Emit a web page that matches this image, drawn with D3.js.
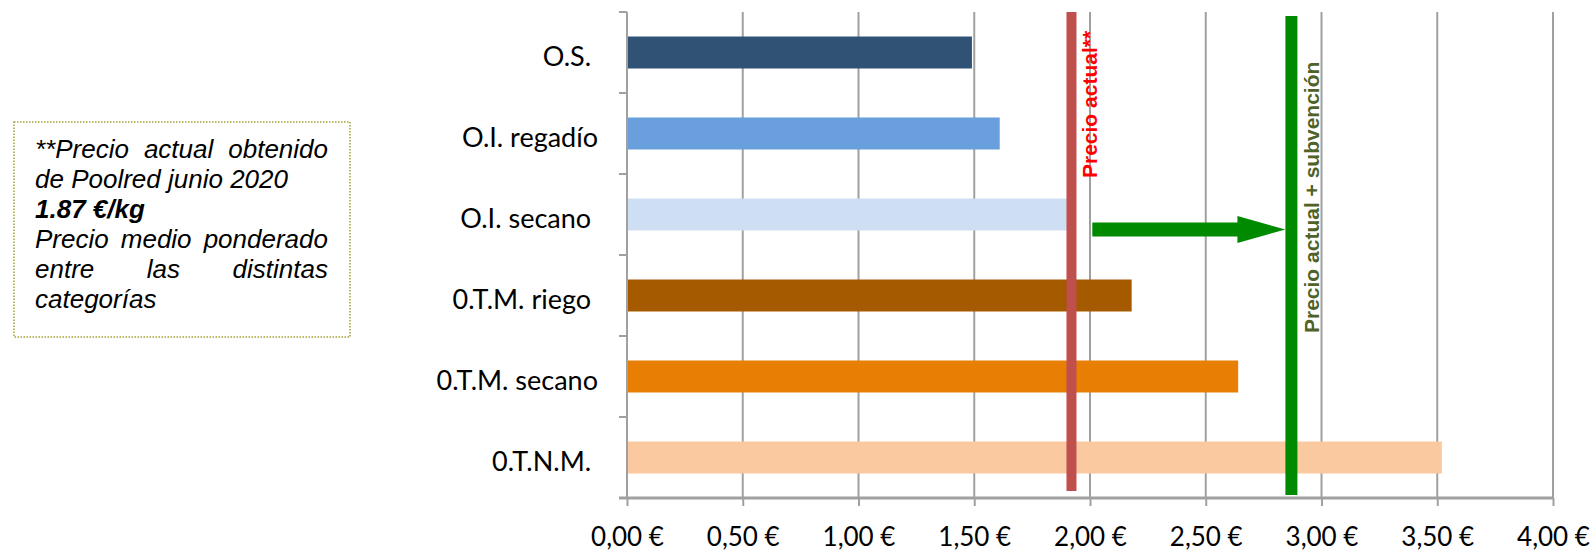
<!DOCTYPE html>
<html>
<head>
<meta charset="utf-8">
<script src="https://cdn.jsdelivr.net/npm/d3@7"></script>
<style>
  html, body { margin: 0; padding: 0; background: #fff; }
  svg { display: block; }
</style>
</head>
<body>
<svg id="chart" width="1593" height="552"></svg>
<script>
// ---- data ----
const categories = ["O.S. ", "O.I. regadío", "O.I. secano ", "0.T.M. riego ", "0.T.M. secano", "0.T.N.M. "];
const values = [1.49, 1.61, 1.90, 2.18, 2.64, 3.52];
const barColors = ["#2f5275", "#689fdc", "#cfdff3", "#a65a00", "#e97e04", "#fbc99f"];
const tickValues = [0, 0.5, 1, 1.5, 2, 2.5, 3, 3.5, 4];
const tickLabels = ["0,00 €", "0,50 €", "1,00 €", "1,50 €", "2,00 €", "2,50 €", "3,00 €", "3,50 €", "4,00 €"];
const precioActual = 1.92;
const precioSubvencion = 2.87;
const arrowStart = 2.01;
const labelActual = "Precio actual**";
const labelSubvencion = "Precio actual + subvención";
const noteLines = [
  { words: ["**Precio", "actual", "obtenido"], justify: true, bold: false },
  { words: ["de", "Poolred", "junio", "2020"], justify: false, bold: false },
  { words: ["1.87", "€/kg"], justify: false, bold: true },
  { words: ["Precio", "medio", "ponderado"], justify: true, bold: false },
  { words: ["entre", "las", "distintas"], justify: true, bold: false },
  { words: ["categorías"], justify: false, bold: false }
];

// ---- layout ----
const svg = d3.select("#chart");
const plot = { left: 627, right: 1553, top: 12, bottom: 498 };
const gridColor = "#a0a0a0";
const labelFont = "Lato, Carlito, Calibri, sans-serif";

const x = d3.scaleLinear().domain([0, 4]).range([plot.left, plot.right]);
const y = d3.scaleBand().domain(categories).range([plot.top, plot.bottom])
  .paddingInner(0.605).paddingOuter(0.3025);

// gridlines
svg.append("g").selectAll("line").data(tickValues.slice(1)).join("line")
  .attr("x1", d => x(d)).attr("x2", d => x(d))
  .attr("y1", plot.top).attr("y2", plot.bottom)
  .attr("stroke", gridColor).attr("stroke-width", 2);

// x axis
const xAxis = d3.axisBottom(x).tickValues(tickValues)
  .tickFormat((d, i) => tickLabels[i]).tickSize(8).tickSizeOuter(0);
const gx = svg.append("g").attr("transform", `translate(0,${plot.bottom})`).call(xAxis);
gx.select(".domain").remove();
gx.selectAll(".tick line").attr("stroke", gridColor).attr("stroke-width", 2);
gx.selectAll(".tick text").attr("fill", "#000").attr("font-family", labelFont)
  .attr("font-size", 26).attr("y", 48).attr("dy", 0);
svg.append("line").attr("x1", plot.left - 8).attr("x2", plot.right)
  .attr("y1", plot.bottom).attr("y2", plot.bottom)
  .attr("stroke", gridColor).attr("stroke-width", 3);

// y axis line + boundary ticks
svg.append("line").attr("x1", plot.left).attr("x2", plot.left)
  .attr("y1", plot.top).attr("y2", plot.bottom)
  .attr("stroke", gridColor).attr("stroke-width", 2);
const boundaries = d3.range(categories.length + 1).map(i => plot.top + i * y.step());
svg.append("g").selectAll("line").data(boundaries).join("line")
  .attr("x1", plot.left - 8).attr("x2", plot.left)
  .attr("y1", d => d).attr("y2", d => d)
  .attr("stroke", gridColor).attr("stroke-width", 2);

// category labels
svg.append("g").selectAll("text").data(categories).join("text")
  .attr("x", 598)
  .attr("y", d => y(d) + y.bandwidth() / 2 + 13)
  .attr("text-anchor", "end")
  .style("white-space", "pre")
  .attr("font-family", labelFont).attr("font-size", 27).attr("fill", "#000")
  .text(d => d);

// bars
svg.append("g").selectAll("rect").data(categories).join("rect")
  .attr("x", x(0) + 1)
  .attr("y", d => y(d))
  .attr("width", (d, i) => x(values[i]) - x(0) - 1)
  .attr("height", y.bandwidth())
  .attr("fill", (d, i) => barColors[i]);

// red line (precio actual)
svg.append("rect")
  .attr("x", x(precioActual) - 5).attr("width", 10)
  .attr("y", plot.top).attr("height", 491 - plot.top)
  .attr("fill", "#c0504d");
svg.append("text")
  .attr("transform", `translate(${x(precioActual) + 26},178) rotate(-90)`)
  .attr("font-family", "Liberation Sans, Arial, sans-serif")
  .attr("font-weight", "bold").attr("font-size", 21).attr("fill", "#ff0000")
  .text(labelActual);

// green arrow
const green = "#008a00";
const arrowY = y(categories[2]) + y.bandwidth() - 1;
const ax0 = x(arrowStart), ax1 = x(precioSubvencion) - 6, headLen = 48;
svg.append("path")
  .attr("d", `M${ax0},${arrowY - 7} L${ax1 - headLen},${arrowY - 7} L${ax1 - headLen},${arrowY - 13.5}
              L${ax1},${arrowY} L${ax1 - headLen},${arrowY + 13.5} L${ax1 - headLen},${arrowY + 7}
              L${ax0},${arrowY + 7} Z`)
  .attr("fill", green);

// green line (precio + subvención)
svg.append("rect")
  .attr("x", x(precioSubvencion) - 6).attr("width", 12)
  .attr("y", 16).attr("height", 495 - 16)
  .attr("fill", green);
svg.append("text")
  .attr("transform", `translate(${x(precioSubvencion) + 28},333) rotate(-90)`)
  .attr("font-family", "Liberation Sans, Arial, sans-serif")
  .attr("font-weight", "bold").attr("font-size", 21).attr("fill", "#4f6228")
  .text(labelSubvencion);

// note box
svg.append("rect").attr("x", 14).attr("y", 122).attr("width", 336).attr("height", 215)
  .attr("fill", "none").attr("stroke", "#a3a336").attr("stroke-width", 1.5)
  .attr("stroke-dasharray", "1.5,1.5");
const noteLeft = 35, noteRight = 328, noteSize = 26;
const note = svg.append("g").attr("font-family", "Liberation Sans, Arial, sans-serif")
  .attr("font-style", "italic").attr("font-size", noteSize).attr("fill", "#000");
noteLines.forEach((line, li) => {
  const baseY = 157.5 + li * 30.1;
  const ws = line.words.map(w => note.append("text").attr("y", baseY)
    .attr("font-weight", line.bold ? "bold" : "normal").text(w));
  const widths = ws.map(t => t.node().getComputedTextLength());
  const total = d3.sum(widths);
  const space = line.justify && ws.length > 1
    ? (noteRight - noteLeft - total) / (ws.length - 1)
    : noteSize * 0.278;
  let cx = noteLeft;
  ws.forEach((t, i) => { t.attr("x", cx); cx += widths[i] + space; });
});
</script>
</body>
</html>
